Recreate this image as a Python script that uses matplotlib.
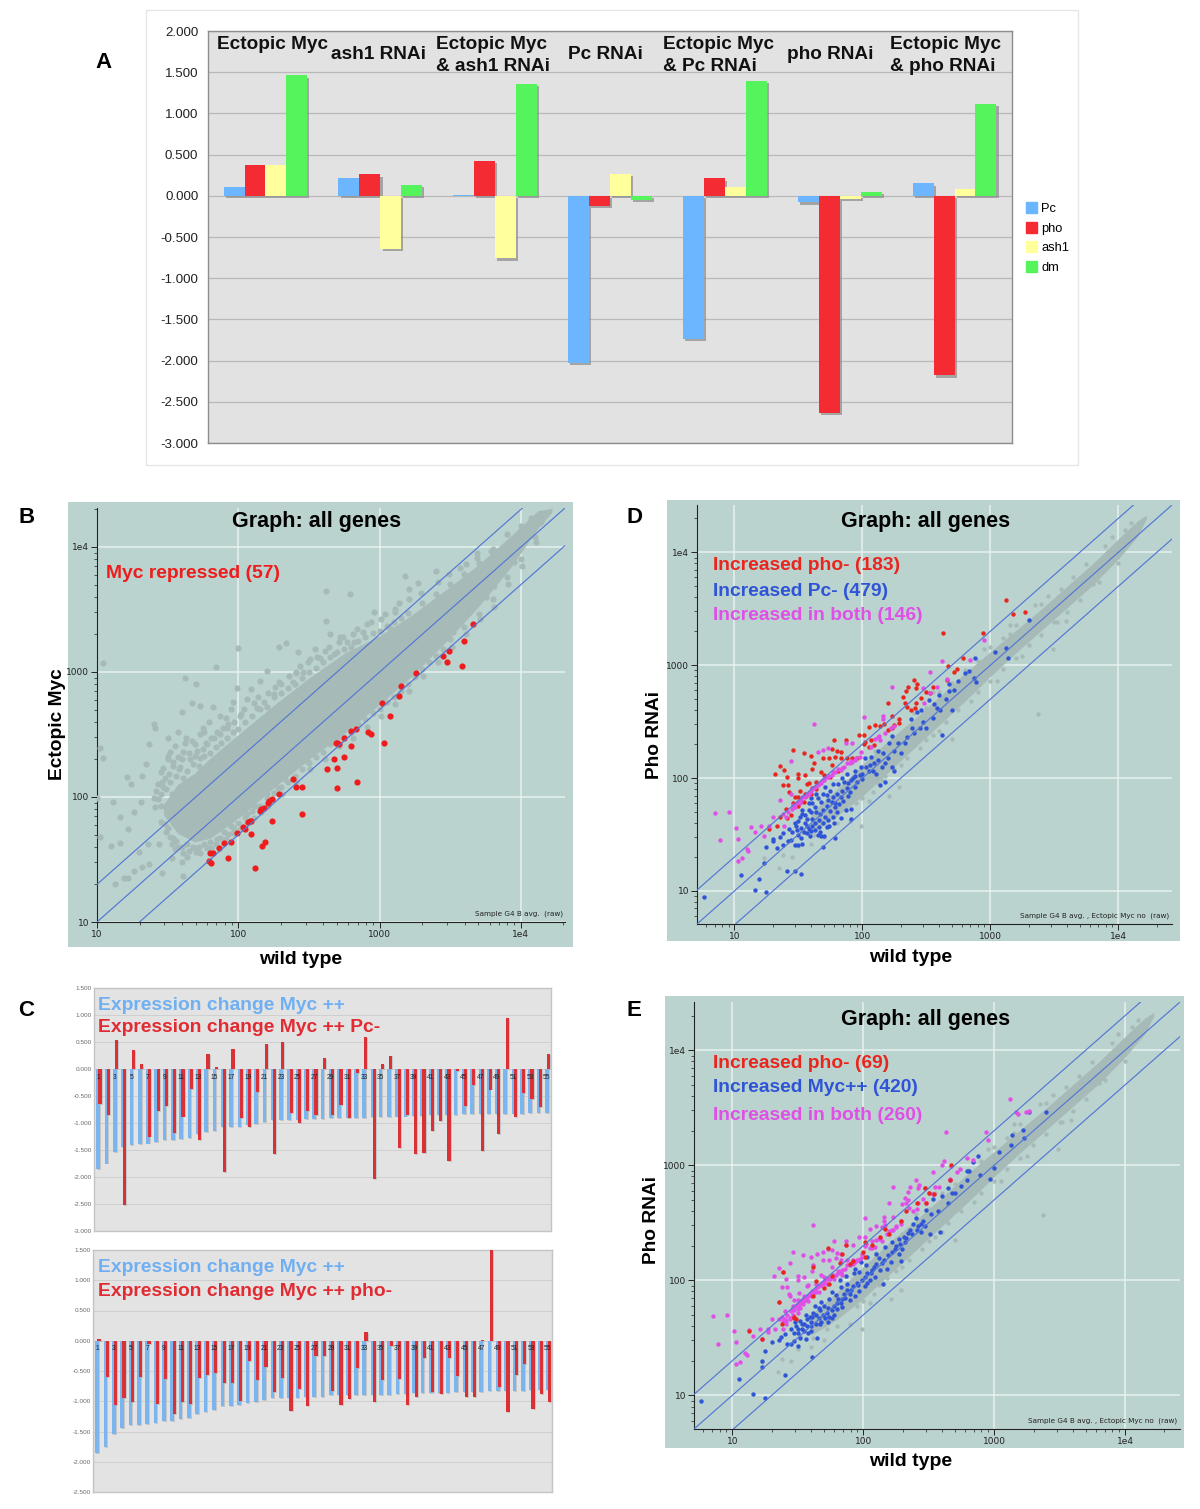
# Fig: Myc / PcG expression changes, panels A-E
import matplotlib
matplotlib.use('Agg')
import matplotlib.pyplot as plt
import matplotlib.patheffects as pe
from matplotlib.patches import Rectangle, Patch
from matplotlib.ticker import FixedLocator, NullFormatter
import numpy as np

plt.rcParams['font.family'] = ['Liberation Sans', 'DejaVu Sans']

W, H = 1200, 1509

# ---- panel A
groups = ['Ectopic Myc', 'ash1 RNAi', 'Ectopic Myc\n& ash1 RNAi', 'Pc RNAi',
          'Ectopic Myc\n& Pc RNAi', 'pho RNAi', 'Ectopic Myc\n& pho RNAi']
a_pc = [0.11, 0.22, 0.005, -2.03, -1.74, -0.08, 0.15]
a_pho = [0.37, 0.26, 0.42, -0.12, 0.21, -2.63, -2.18]
a_ash1 = [0.37, -0.64, -0.76, 0.27, 0.11, -0.04, 0.08]
a_dm = [1.46, 0.13, 1.36, -0.05, 1.39, 0.05, 1.12]

# ---- panel C, one bar per gene
c_myc = [-1.85, -1.75, -1.54, -1.44, -1.40, -1.39, -1.38, -1.36, -1.32, -1.32, -1.30,
         -1.27, -1.21, -1.17, -1.14, -1.08, -1.08, -1.07, -1.03, -1.01, -0.98, -0.95,
         -0.94, -0.94, -0.94, -0.93, -0.93, -0.93, -0.90, -0.90, -0.90, -0.90, -0.90,
         -0.89, -0.89, -0.89, -0.88, -0.88, -0.87, -0.87, -0.86, -0.86, -0.86, -0.85,
         -0.84, -0.84, -0.84, -0.83, -0.83, -0.83, -0.83, -0.83, -0.82, -0.82, -0.81]
c_myc_pc = [-0.65, -0.85, 0.53, -2.52, 0.35, 0.10, -1.25, -0.78, -0.68, -1.18, -0.88,
            -0.37, -1.32, 0.27, 0.03, -1.90, 0.37, -0.90, -1.08, -0.42, 0.47, -1.58,
            0.50, -0.82, -1.00, -0.77, -0.85, 0.21, -0.86, -0.67, -0.91, -0.07, 0.59,
            -2.03, 0.10, 0.25, -1.47, -0.85, -1.58, -1.56, -1.15, -0.96, -1.71, -0.04,
            -0.69, -0.30, -1.51, -0.38, -1.20, 0.94, -0.89, -0.44, -0.55, -0.70, 0.27]
c_myc_pho = [0.03, -0.60, -1.06, -0.95, -1.02, -0.60, -0.06, -1.05, -0.64, -1.21, -1.02,
             -1.05, -0.62, -0.57, -0.53, -0.70, -0.70, -0.99, -0.33, -0.65, -0.43, -0.84,
             -0.62, -1.16, -0.80, -1.08, -0.26, -0.25, -0.83, -1.06, -0.96, -0.45, 0.15,
             -1.02, -0.65, -0.08, -0.63, -1.06, -0.93, -0.29, -0.84, -0.88, -0.29, -0.59,
             -0.93, -0.93, 0.01, 1.50, -0.76, -1.18, -0.56, -0.39, -1.13, -0.88, -1.01]

# ---- scatter panels, (log10 x, log10 y)
b_band_x = [1.47, 1.57, 1.69, 1.80, 2.00, 2.28, 2.51, 2.75, 3.00, 3.22, 3.46, 3.69, 3.93, 4.12, 4.22]
b_band_lo = [1.86, 1.71, 1.64, 1.67, 1.83, 2.10, 2.31, 2.51, 2.74, 2.96, 3.23, 3.51, 3.84, 4.15, 4.28]
b_band_hi = [1.94, 2.10, 2.19, 2.31, 2.50, 2.76, 2.96, 3.15, 3.29, 3.45, 3.65, 3.85, 4.09, 4.29, 4.31]
b_gray = [(1.04, 3.07), (1.02, 2.39), (1.04, 2.31), (1.00, 1.99), (1.02, 1.68), (1.11, 1.96),
          (1.16, 1.84), (1.10, 1.61), (1.16, 1.63), (1.13, 1.30), (1.19, 1.35), (1.22, 1.35),
          (1.26, 1.41), (1.32, 1.44), (1.37, 1.46), (1.46, 1.39), (1.61, 1.37), (1.60, 1.48),
          (1.53, 1.51), (1.30, 1.56), (1.36, 1.62), (1.44, 1.62), (1.22, 1.74), (1.31, 1.96),
          (1.26, 1.88), (1.35, 2.26), (1.32, 2.17), (1.21, 2.16), (1.24, 2.10), (1.37, 2.42),
          (1.40, 2.58), (1.41, 2.55), (1.50, 2.47), (1.57, 2.52), (1.67, 2.75), (1.73, 2.73),
          (1.62, 2.95), (1.70, 2.90), (1.84, 3.04), (1.60, 2.68), (1.76, 2.52), (1.82, 2.72),
          (1.91, 2.63), (1.96, 2.76), (1.99, 2.87), (2.00, 3.19), (2.09, 2.86), (2.15, 2.93),
          (2.20, 3.01), (2.25, 2.82), (2.29, 3.20), (2.34, 3.23), (2.42, 3.16), (2.54, 3.18),
          (2.41, 2.99), (2.51, 3.10), (2.62, 3.65), (2.62, 3.41), (2.79, 3.62), (2.72, 3.28),
          (2.65, 3.30), (2.82, 3.24), (2.88, 3.32), (2.96, 3.48), (3.18, 3.77), (3.27, 3.71),
          (3.21, 3.66), (3.40, 3.81), (3.11, 3.48), (3.07, 3.35), (3.95, 3.88), (3.81, 3.69),
          (3.39, 3.19), (3.24, 3.03), (3.10, 2.92), (2.98, 2.76), (2.82, 2.58), (2.68, 2.55),
          (2.49, 2.28), (2.39, 2.26), (2.28, 2.07), (2.20, 2.02), (2.06, 1.86), (1.97, 1.75),
          (1.87, 1.67), (1.78, 1.59), (1.69, 1.59), (1.64, 1.52), (1.45, 2.20), (1.43, 2.10),
          (1.45, 2.02), (1.48, 2.15), (1.54, 2.28), (1.52, 2.36), (1.61, 2.36), (1.69, 2.42),
          (1.78, 2.42), (1.73, 2.31), (1.83, 2.47), (1.92, 2.55), (1.87, 2.50), (2.02, 2.66),
          (2.13, 2.71), (2.18, 2.76), (2.30, 2.90), (2.39, 2.92), (2.46, 3.00), (2.58, 3.11),
          (2.68, 3.14), (2.77, 3.24), (1.45, 1.80), (1.50, 1.75), (1.54, 1.67), (1.41, 1.92),
          (4.07, 4.23), (4.14, 4.20), (3.95, 4.07), (3.79, 3.97), (3.69, 3.91), (3.57, 3.83),
          (1.50, 2.30), (1.58, 2.22), (1.66, 2.30), (1.75, 2.38), (1.40, 1.99), (1.47, 2.08),
          (1.55, 1.58), (1.70, 1.56), (1.84, 1.62), (1.93, 1.70), (2.12, 1.93), (2.33, 2.14),
          (2.58, 2.40), (2.87, 2.68), (3.05, 2.85), (3.30, 3.10), (3.52, 3.32), (3.75, 3.60)]
b_upper_fringe = [(1.42, 2.05), (1.43, 1.98), (1.46, 2.12), (1.47, 2.23), (1.45, 1.93), (1.51, 2.18),
                  (1.49, 2.06), (1.50, 2.33), (1.53, 2.02), (1.54, 2.25), (1.52, 2.12), (1.56, 2.17),
                  (1.57, 2.32), (1.55, 2.41), (1.61, 2.15), (1.59, 2.24), (1.60, 2.30), (1.62, 2.43),
                  (1.64, 2.21), (1.65, 2.35), (1.63, 2.47), (1.68, 2.26), (1.69, 2.33), (1.67, 2.45),
                  (1.72, 2.25), (1.71, 2.37), (1.73, 2.50), (1.76, 2.33), (1.77, 2.43), (1.75, 2.55),
                  (1.80, 2.35), (1.81, 2.47), (1.79, 2.60), (1.84, 2.40), (1.85, 2.52), (1.88, 2.43),
                  (1.89, 2.55), (1.87, 2.65), (1.92, 2.47), (1.93, 2.58), (1.96, 2.52), (1.97, 2.60),
                  (1.95, 2.70), (2.00, 2.54), (2.01, 2.65), (2.05, 2.60), (2.04, 2.70), (2.06, 2.78),
                  (2.10, 2.65), (2.11, 2.75), (2.15, 2.70), (2.14, 2.80), (2.20, 2.72), (2.21, 2.83),
                  (2.25, 2.80), (2.26, 2.88), (2.30, 2.83), (2.29, 2.92), (2.35, 2.87), (2.36, 2.97),
                  (2.40, 2.90), (2.41, 3.00), (2.45, 2.95), (2.44, 3.05), (2.50, 3.00), (2.49, 3.08),
                  (2.55, 3.03), (2.56, 3.12), (2.60, 3.08), (2.61, 3.17), (2.65, 3.12), (2.64, 3.20),
                  (2.70, 3.16), (2.71, 3.24), (2.75, 3.18), (2.74, 3.28), (2.80, 3.20), (2.81, 3.30),
                  (2.85, 3.25), (2.84, 3.34), (2.90, 3.28), (2.91, 3.38), (2.95, 3.31), (2.94, 3.40),
                  (3.00, 3.33), (3.01, 3.42), (3.05, 3.37), (3.04, 3.46), (3.10, 3.40), (3.11, 3.50),
                  (3.15, 3.43), (3.14, 3.55), (3.20, 3.47), (3.21, 3.58), (3.30, 3.55), (3.29, 3.63),
                  (3.40, 3.62), (3.41, 3.72), (3.50, 3.70), (3.49, 3.78), (3.60, 3.78), (3.61, 3.86),
                  (3.70, 3.87), (3.69, 3.95), (3.80, 3.98), (3.90, 4.10), (4.00, 4.17)]
b_lower_fringe = [(1.48, 1.78), (1.49, 1.72), (1.52, 1.68), (1.53, 1.62), (1.56, 1.65), (1.57, 1.60),
                  (1.60, 1.60), (1.61, 1.55), (1.64, 1.62), (1.65, 1.57), (1.68, 1.60), (1.72, 1.60),
                  (1.73, 1.55), (1.76, 1.62), (1.80, 1.64), (1.81, 1.59), (1.85, 1.66), (1.90, 1.72),
                  (1.91, 1.66), (1.95, 1.77), (1.96, 1.71), (2.00, 1.79), (2.01, 1.74), (2.05, 1.84),
                  (2.06, 1.79), (2.10, 1.89), (2.11, 1.83), (2.15, 1.93), (2.16, 1.88), (2.20, 1.99),
                  (2.21, 1.93), (2.25, 2.03), (2.30, 2.08), (2.31, 2.02), (2.35, 2.12), (2.40, 2.17),
                  (2.41, 2.12), (2.45, 2.22), (2.50, 2.27), (2.51, 2.22), (2.55, 2.32), (2.60, 2.36),
                  (2.61, 2.30), (2.65, 2.42), (2.70, 2.47), (2.71, 2.41), (2.75, 2.48), (2.80, 2.52),
                  (2.81, 2.47), (2.85, 2.58), (2.90, 2.62), (2.91, 2.56), (2.95, 2.67), (3.00, 2.70),
                  (3.01, 2.65), (3.05, 2.76), (3.10, 2.80), (3.11, 2.74), (3.15, 2.85), (3.20, 2.90),
                  (3.21, 2.85), (3.25, 2.96), (3.30, 3.02), (3.31, 2.97), (3.35, 3.08), (3.40, 3.13),
                  (3.41, 3.08), (3.45, 3.18), (3.50, 3.26), (3.51, 3.20), (3.60, 3.36), (3.61, 3.30),
                  (3.70, 3.46), (3.71, 3.42), (3.80, 3.58), (3.81, 3.52), (3.90, 3.76), (3.91, 3.70),
                  (4.00, 3.90), (4.01, 3.85), (4.10, 4.08), (4.11, 4.04)]
b_red = [(3.66, 3.38), (3.60, 3.25), (3.49, 3.17), (3.45, 3.13), (3.48, 3.08), (3.58, 3.05),
         (3.26, 2.99), (3.15, 2.89), (3.14, 2.81), (3.02, 2.75), (3.07, 2.65), (3.03, 2.43),
         (2.92, 2.52), (2.94, 2.50), (2.83, 2.54), (2.80, 2.53), (2.75, 2.47), (2.80, 2.41),
         (2.69, 2.43), (2.71, 2.42), (2.68, 2.30), (2.75, 2.32), (2.63, 2.22), (2.70, 2.23),
         (2.70, 2.07), (2.84, 2.12), (2.39, 2.14), (2.41, 2.08), (2.45, 2.08), (2.45, 1.86),
         (2.29, 2.02), (2.24, 1.98), (2.22, 1.97), (2.21, 1.95), (2.24, 1.81), (2.18, 1.91),
         (2.16, 1.90), (2.15, 1.89), (2.09, 1.81), (2.07, 1.80), (2.09, 1.70), (2.03, 1.76),
         (2.05, 1.74), (1.99, 1.71), (1.95, 1.64), (1.90, 1.63), (1.86, 1.59), (2.19, 1.64),
         (2.17, 1.61), (1.93, 1.51), (2.12, 1.43), (1.80, 1.55), (1.82, 1.55), (1.79, 1.49),
         (1.81, 1.47), (2.70, 2.43), (2.08, 1.81)]

# same genes on D and E, only the colouring differs
de_band_x = [1.60, 1.80, 2.00, 2.20, 2.40, 2.60, 2.80, 3.00, 3.20, 3.40, 3.60, 3.80, 4.00, 4.15, 4.22]
de_band_lo = [1.52, 1.66, 1.84, 2.05, 2.26, 2.47, 2.68, 2.90, 3.11, 3.31, 3.51, 3.71, 3.94, 4.14, 4.30]
de_band_hi = [1.70, 1.90, 2.12, 2.33, 2.52, 2.72, 2.93, 3.12, 3.31, 3.50, 3.70, 3.90, 4.12, 4.28, 4.33]
de_gray = [(3.37, 2.57), (1.99, 1.58), (2.21, 1.84), (2.29, 1.92), (2.70, 2.35), (3.49, 3.14),
           (3.59, 3.39), (3.45, 3.61), (3.15, 3.28), (1.23, 1.29), (1.90, 1.62), (2.05, 1.80),
           (2.15, 1.98), (2.30, 2.12), (2.50, 2.34), (2.60, 2.42), (2.85, 2.68), (3.05, 2.86),
           (3.25, 3.08), (3.52, 3.38), (3.80, 3.72), (2.40, 2.58), (2.70, 2.84), (2.95, 3.14),
           (3.10, 3.24), (3.35, 3.53), (3.65, 3.78), (3.95, 4.14), (4.10, 4.26), (1.70, 1.48),
           (1.80, 1.60), (1.60, 1.42), (1.50, 1.40), (2.10, 2.24), (2.55, 2.76), (3.15, 3.36),
           (1.95, 1.78), (2.00, 1.82), (2.08, 1.88), (2.12, 1.96), (2.18, 2.02), (2.25, 2.08),
           (2.35, 2.18), (2.45, 2.27), (2.55, 2.38), (2.65, 2.50), (2.75, 2.60), (2.90, 2.76),
           (3.00, 2.86), (3.10, 2.97), (3.20, 3.06), (3.30, 3.18), (3.40, 3.27), (3.50, 3.38),
           (3.60, 3.47), (3.70, 3.58), (3.85, 3.74), (4.00, 3.91), (2.30, 2.40), (2.50, 2.62),
           (2.60, 2.76), (2.80, 2.96), (2.90, 3.04), (3.00, 3.16), (3.20, 3.36), (3.40, 3.54),
           (3.55, 3.68), (3.75, 3.90), (3.90, 4.06), (4.05, 4.20), (1.45, 1.30), (1.38, 1.32),
           (1.35, 1.20), (1.52, 1.52), (1.62, 1.50), (1.72, 1.58)]
d_red = [(3.12, 3.58), (3.18, 3.45), (3.27, 3.47), (2.63, 3.29), (2.94, 3.29), (2.79, 3.06),
         (2.67, 2.99), (2.74, 2.97), (2.72, 2.94), (2.66, 2.87), (2.40, 2.87), (2.36, 2.81),
         (2.43, 2.83), (2.42, 2.80), (2.34, 2.77), (2.55, 2.81), (2.50, 2.76), (2.53, 2.75),
         (2.46, 2.71), (2.32, 2.72), (2.33, 2.67), (2.42, 2.67), (2.20, 2.67), (2.35, 2.63),
         (2.38, 2.60), (2.41, 2.62), (2.23, 2.55), (2.29, 2.52), (2.29, 2.49), (2.25, 2.47),
         (2.05, 2.45), (2.10, 2.47), (2.14, 2.46), (2.17, 2.48), (2.20, 2.43), (2.23, 2.44),
         (1.97, 2.38), (2.01, 2.38), (1.78, 2.34), (1.87, 2.34), (2.02, 2.32), (2.07, 2.34),
         (2.09, 2.29), (2.05, 2.28), (2.01, 2.30), (1.46, 2.25), (1.54, 2.22), (1.60, 2.20),
         (1.76, 2.26), (1.80, 2.24), (1.83, 2.23), (1.69, 2.18), (1.74, 2.18), (1.79, 2.19),
         (1.83, 2.18), (1.88, 2.18), (1.92, 2.18), (1.96, 2.18), (1.62, 2.13), (1.76, 2.12),
         (1.36, 2.11), (1.32, 2.04), (1.39, 2.07), (1.41, 2.01), (1.50, 2.04), (1.55, 2.03),
         (1.61, 2.08), (1.68, 2.05), (1.75, 2.01), (1.81, 2.06), (1.38, 1.94), (1.42, 1.94),
         (1.50, 2.00), (1.57, 1.95), (1.64, 1.97), (1.43, 1.88), (1.51, 1.89), (1.61, 1.91),
         (1.50, 1.83), (1.55, 1.86), (1.40, 1.73), (1.46, 1.78), (1.50, 1.75), (1.54, 1.79),
         (1.36, 1.66), (1.44, 1.67), (1.41, 1.65), (1.27, 1.55), (1.33, 1.58), (1.58, 1.96),
         (1.64, 1.90), (1.47, 1.83), (1.52, 1.80), (1.56, 1.84), (1.60, 1.86), (1.70, 2.03)]
d_pink = [(2.95, 3.22), (2.62, 3.04), (2.84, 3.05), (2.53, 2.94), (2.66, 2.88), (2.23, 2.81),
          (2.47, 2.80), (2.58, 2.81), (2.53, 2.75), (2.48, 2.67), (2.01, 2.54), (2.16, 2.55),
          (2.16, 2.52), (1.62, 2.48), (2.25, 2.46), (2.10, 2.35), (2.13, 2.37), (1.92, 2.31),
          (1.87, 2.31), (1.99, 2.23), (1.73, 2.27), (1.69, 2.25), (1.65, 2.23), (1.44, 2.15),
          (1.91, 2.15), (1.42, 1.70), (1.45, 1.73), (1.49, 1.78), (1.52, 1.81), (1.55, 1.83),
          (1.59, 1.88), (1.62, 1.91), (1.65, 1.94), (1.68, 1.96), (1.70, 1.98), (1.73, 2.01),
          (1.76, 2.03), (1.79, 2.05), (1.83, 2.07), (1.86, 2.10), (1.90, 2.13), (1.94, 2.16),
          (1.98, 2.19), (1.47, 1.74), (1.51, 1.78), (1.56, 1.85), (1.60, 1.89), (1.63, 1.92),
          (1.69, 1.98), (1.74, 2.02), (1.38, 1.68), (1.40, 1.66), (0.85, 1.69), (0.96, 1.70),
          (1.01, 1.56), (0.89, 1.45), (1.03, 1.46), (1.13, 1.57), (1.16, 1.52), (1.21, 1.58),
          (1.23, 1.49), (1.27, 1.58), (1.30, 1.66), (1.10, 1.37), (1.11, 1.35), (1.03, 1.27),
          (1.06, 1.29), (1.36, 1.81), (1.44, 1.86), (1.39, 1.58), (2.12, 2.36), (2.14, 2.34),
          (2.18, 2.40), (2.22, 2.44), (2.07, 2.28), (1.95, 2.18), (1.88, 2.13), (1.81, 2.08),
          (1.53, 1.83), (1.58, 1.86), (1.61, 1.90), (1.66, 1.95), (1.71, 2.00), (1.77, 2.05),
          (1.84, 2.09), (1.92, 2.14), (1.50, 1.79), (1.46, 1.76)]
d_blue = [(0.76, 0.95), (1.16, 1.01), (1.25, 0.99), (1.19, 1.11), (1.05, 1.14), (1.23, 1.25),
          (1.41, 1.18), (1.47, 1.18), (1.52, 1.15), (1.69, 1.39), (1.79, 1.47), (1.25, 1.39),
          (1.30, 1.44), (1.30, 1.46), (1.36, 1.48), (1.38, 1.51), (1.33, 1.38), (1.38, 1.41),
          (1.42, 1.44), (1.44, 1.45), (1.47, 1.41), (1.50, 1.41), (1.53, 1.42), (1.43, 1.55),
          (1.49, 1.54), (1.50, 1.50), (1.57, 1.51), (1.59, 1.49), (1.65, 1.50), (1.68, 1.49),
          (1.70, 1.49), (1.55, 1.60), (1.61, 1.58), (1.66, 1.57), (1.72, 1.57), (1.51, 1.66),
          (1.55, 1.67), (1.61, 1.64), (1.66, 1.63), (1.73, 1.63), (1.77, 1.66), (1.58, 1.72),
          (1.64, 1.70), (1.69, 1.72), (1.75, 1.71), (1.80, 1.70), (1.91, 1.64), (1.83, 1.65),
          (1.87, 1.72), (1.91, 1.73), (1.61, 1.78), (1.68, 1.79), (1.73, 1.81), (1.79, 1.78),
          (1.83, 1.83), (1.69, 1.86), (1.75, 1.89), (1.80, 1.86), (1.84, 1.89), (1.88, 1.91),
          (1.94, 1.92), (1.81, 1.95), (1.86, 1.97), (1.91, 1.98), (1.88, 2.04), (1.94, 2.06),
          (1.99, 2.10), (2.05, 2.06), (2.02, 2.18), (2.07, 2.19), (2.09, 2.13), (2.06, 2.12),
          (2.20, 2.18), (2.18, 2.13), (2.23, 2.10), (2.14, 1.94), (2.18, 1.97), (2.25, 2.06),
          (2.21, 2.31), (2.28, 2.31), (2.23, 2.37), (2.39, 2.44), (2.40, 2.40), (2.47, 2.50),
          (2.50, 2.44), (2.62, 2.38), (2.43, 2.59), (2.46, 2.60), (2.61, 2.60), (2.70, 2.60),
          (2.52, 2.69), (2.60, 2.74), (2.68, 2.77), (2.68, 2.83), (2.75, 2.86), (2.80, 2.93),
          (2.83, 2.95), (2.87, 2.89), (2.89, 2.85), (2.88, 3.06), (3.04, 3.12), (3.14, 3.06),
          (3.12, 3.15), (3.30, 3.40), (1.52, 1.47), (1.58, 1.55), (1.63, 1.54), (1.47, 1.60),
          (1.53, 1.72), (1.58, 1.78), (1.65, 1.82), (1.71, 1.92), (1.77, 1.95), (1.93, 2.00),
          (1.98, 2.03), (2.00, 1.99), (2.12, 2.24), (2.30, 2.22), (2.35, 2.36), (2.56, 2.66),
          (1.45, 1.52), (1.48, 1.58), (1.52, 1.56), (1.54, 1.52), (1.57, 1.58), (1.60, 1.53),
          (1.63, 1.60), (1.67, 1.52), (1.69, 1.60), (1.71, 1.66), (1.74, 1.58), (1.78, 1.60),
          (1.50, 1.62), (1.53, 1.68), (1.57, 1.64), (1.60, 1.70), (1.63, 1.74), (1.67, 1.68),
          (1.72, 1.75), (1.76, 1.79), (1.79, 1.74), (1.82, 1.77), (1.85, 1.80), (1.89, 1.84),
          (1.60, 1.82), (1.64, 1.86), (1.72, 1.85), (1.77, 1.83), (1.90, 1.88), (1.96, 1.97),
          (1.84, 2.00), (1.89, 1.96), (1.94, 2.02), (2.00, 2.04), (2.03, 2.10), (2.08, 2.06),
          (2.12, 2.16), (2.15, 2.10), (2.11, 2.04), (2.16, 2.22), (2.25, 2.24), (2.33, 2.31),
          (2.38, 2.52), (2.45, 2.44), (2.55, 2.53), (2.58, 2.62), (2.65, 2.70), (2.72, 2.78)]
e_red = [(1.13, 1.56), (1.23, 1.49), (1.38, 1.62), (1.36, 1.81), (1.39, 2.07), (1.47, 1.67),
         (1.62, 2.12), (1.73, 2.28), (1.87, 2.31), (1.84, 2.23), (1.82, 2.15), (1.92, 2.17),
         (1.90, 2.14), (2.00, 2.25), (2.01, 2.33), (2.01, 2.20), (2.07, 2.31), (2.13, 2.38),
         (2.17, 2.45), (2.20, 2.40), (2.29, 2.52), (2.33, 2.60), (2.41, 2.67), (2.48, 2.67),
         (2.47, 2.80), (2.50, 2.76), (2.54, 2.75), (2.66, 2.87), (2.67, 3.00), (1.62, 1.86),
         (1.74, 1.97), (1.76, 2.04), (1.64, 1.99), (1.70, 1.93), (1.47, 1.68), (1.49, 1.66)]
e_pink_extra = [(2.60, 3.00), (1.55, 1.82), (1.62, 1.88), (1.50, 1.72), (1.46, 1.70), (1.44, 1.66),
                (1.52, 1.76), (1.58, 1.82), (1.66, 1.90), (1.72, 1.97), (1.78, 2.01), (1.84, 2.05),
                (1.41, 1.62), (1.39, 1.65), (3.17, 3.46), (3.24, 3.46), (2.30, 2.66), (2.34, 2.70)]
e_blue = [(0.76, 0.95), (1.16, 1.01), (1.25, 0.98), (1.05, 1.14), (1.23, 1.25), (1.23, 1.30),
          (1.25, 1.39), (1.30, 1.46), (1.36, 1.48), (1.37, 1.51), (1.40, 1.53), (1.40, 1.18),
          (1.61, 1.33), (1.65, 1.50), (1.42, 1.45), (1.45, 1.45), (1.50, 1.43), (1.50, 1.54),
          (1.50, 1.58), (1.58, 1.54), (1.60, 1.56), (1.48, 1.64), (1.52, 1.65), (1.55, 1.62),
          (1.60, 1.64), (1.66, 1.67), (1.71, 1.67), (1.76, 1.67), (1.56, 1.70), (1.62, 1.72),
          (1.67, 1.74), (1.72, 1.72), (1.78, 1.78), (1.63, 1.78), (1.68, 1.81), (1.74, 1.84),
          (1.79, 1.87), (1.83, 1.80), (1.84, 1.84), (1.90, 1.88), (1.94, 1.86), (1.76, 1.90),
          (1.83, 1.94), (1.88, 1.97), (1.82, 2.00), (1.87, 2.04), (1.93, 2.06), (1.97, 2.07),
          (2.01, 2.03), (2.05, 2.00), (2.15, 1.97), (2.01, 1.95), (1.98, 2.16), (2.02, 2.13),
          (2.06, 2.06), (1.94, 2.10), (2.03, 2.20), (2.10, 2.23), (2.14, 2.15), (2.18, 2.10),
          (2.17, 2.29), (2.22, 2.25), (2.27, 2.23), (2.29, 2.17), (2.22, 2.33), (2.27, 2.36),
          (2.32, 2.33), (2.34, 2.41), (2.38, 2.49), (2.40, 2.54), (2.44, 2.49), (2.46, 2.52),
          (2.51, 2.40), (2.59, 2.42), (2.52, 2.58), (2.48, 2.61), (2.57, 2.60), (2.53, 2.71),
          (2.60, 2.73), (2.65, 2.67), (2.68, 2.76), (2.70, 2.76), (2.65, 2.80), (2.75, 2.82),
          (2.79, 2.87), (2.79, 2.95), (2.81, 2.95), (2.89, 2.92), (2.97, 2.88), (3.00, 2.98),
          (2.88, 3.08), (2.84, 3.03), (3.04, 3.12), (3.13, 3.18), (3.14, 3.26), (3.22, 3.31),
          (3.23, 3.24), (3.27, 3.46), (3.40, 3.46), (1.53, 1.58), (1.57, 1.60), (1.64, 1.62),
          (1.68, 1.64), (1.74, 1.68), (1.80, 1.75), (1.86, 1.85), (1.91, 1.92), (1.96, 1.96),
          (1.70, 1.78), (1.66, 1.76), (1.59, 1.68), (1.47, 1.54), (1.45, 1.58), (1.55, 1.56),
          (2.08, 2.12), (2.12, 2.19), (2.25, 2.30), (2.31, 2.38), (2.36, 2.44), (2.42, 2.47),
          (1.49, 1.60), (1.53, 1.62), (1.57, 1.66), (1.61, 1.68), (1.64, 1.70), (1.69, 1.70),
          (1.73, 1.76), (1.76, 1.74), (1.80, 1.80), (1.81, 1.84), (1.85, 1.88), (1.88, 1.92),
          (1.92, 1.95), (1.95, 1.98), (1.99, 2.00), (2.03, 2.06), (2.07, 2.09), (2.10, 2.14),
          (2.13, 2.09), (2.16, 2.18), (2.19, 2.22), (2.21, 2.16), (2.24, 2.27), (2.28, 2.32),
          (2.30, 2.27), (2.33, 2.37), (2.37, 2.40), (2.41, 2.44), (2.44, 2.42), (2.47, 2.47),
          (1.47, 1.47), (1.52, 1.50), (1.56, 1.49), (1.60, 1.60), (1.67, 1.62), (1.73, 1.64),
          (1.78, 1.70), (1.84, 1.77), (1.90, 1.83), (1.97, 1.91), (2.03, 1.98), (2.09, 2.03)]

red = '#e8261e'
blue = '#2f55d6'
pink = '#e04fe6'
gray = '#a6bbb8'
teal = '#bbd3cf'
line_blue = '#5476d4'

fig = plt.figure(figsize=(W / 100, H / 100), dpi=100)


def px_axes(left, top, right, bottom):
    return fig.add_axes([left / W, 1 - bottom / H, (right - left) / W, (bottom - top) / H])


def px_text(x, y, s, **kw):
    kw.setdefault('ha', 'left')
    kw.setdefault('va', 'center')
    kw.setdefault('fontweight', 'bold')
    fig.text(x / W, 1 - y / H, s, **kw)


def px_rect(left, top, right, bottom, **kw):
    fig.add_artist(Rectangle((left / W, 1 - bottom / H), (right - left) / W, (bottom - top) / H,
                             transform=fig.transFigure, **kw))


def scatter_panel(box, axbox, lim, band, layers, ylabel_pos, ylabel, xlabel_pos, note,
                  size, title_x, title_y):
    px_rect(*box, facecolor=teal, edgecolor='none', zorder=-5)
    ax = px_axes(*axbox)
    ax.patch.set_alpha(0)
    ax.set_xscale('log')
    ax.set_yscale('log')
    ax.set_xlim(lim)
    ax.set_ylim(lim)
    for t in [10, 100, 1000, 10000]:
        ax.axvline(t, color='#e6f2ef', lw=1.1, zorder=1)
        ax.axhline(t, color='#e6f2ef', lw=1.1, zorder=1)
    bx, blo, bhi = band
    ax.fill_between(10 ** np.array(bx), 10 ** np.array(blo), 10 ** np.array(bhi),
                    color=gray, lw=0, zorder=2)
    for k, (pts, col) in enumerate(layers):
        xy = 10 ** np.array(pts)
        ax.scatter(xy[:, 0], xy[:, 1], s=size, c=col, linewidths=0, zorder=3 + k * 0.1)
    grid = np.array([lim[0], lim[1] * 4])
    for f in [2, 1, 0.5]:
        ax.plot(grid, grid * f, color=line_blue, lw=0.85, zorder=5)
    for s in ['top', 'right']:
        ax.spines[s].set_visible(False)
    for s in ['left', 'bottom']:
        ax.spines[s].set_linewidth(0.8)
        ax.spines[s].set_color('#222222')
    majors = [10, 100, 1000, 10000]
    minors = [m * 10 ** e for e in range(0, 5) for m in range(2, 10)]
    for axis in (ax.xaxis, ax.yaxis):
        axis.set_major_locator(FixedLocator(majors))
        axis.set_major_formatter(plt.FixedFormatter(['10', '100', '1000', '1e4']))
        axis.set_minor_locator(FixedLocator(minors))
        axis.set_minor_formatter(NullFormatter())
    ax.tick_params(which='major', length=4, width=0.7, labelsize=6.5, pad=1.5, colors='#222222',
                   labelfontfamily='DejaVu Sans')
    ax.tick_params(which='minor', length=2, width=0.5, colors='#222222')
    ax.text(0.995, 0.012, note, transform=ax.transAxes, ha='right', va='bottom',
            fontsize=5.2, color='#222222', family='DejaVu Sans')
    px_text(title_x, title_y, 'Graph: all genes', ha='center', fontsize=15.5, color='black')
    px_text(ylabel_pos[0], ylabel_pos[1], ylabel, ha='center', rotation=90, fontsize=13.8, color='black')
    px_text(xlabel_pos[0], xlabel_pos[1], 'wild type', ha='center', fontsize=14, color='black')
    return ax


def bars_panel(box, ylim, values, color2, lab_y, legend_y, legend2):
    ax = px_axes(*box)
    ax.set_facecolor('#e3e3e3')
    x = np.arange(1, 56)
    shadow = [pe.withSimplePatchShadow(offset=(0.7, -0.7), shadow_rgbFace='#aaaaaa', alpha=0.5), pe.Normal()]
    ax.bar(x, c_myc, width=0.44, color='#7ab5ee', zorder=2, path_effects=shadow)
    ax.bar(x + 0.22, values, width=0.38, color=color2, zorder=3, path_effects=shadow)
    ax.set_xlim(0.5, 55.5)
    ax.set_ylim(ylim)
    ticks = np.arange(ylim[0], ylim[1] + 0.01, 0.5)
    ax.set_yticks(ticks)
    ax.set_yticklabels(['%.3f' % t for t in ticks])
    ax.set_xticks([])
    ax.tick_params(axis='y', length=0, labelsize=4.6, labelcolor='#6a6a6a', pad=1.5)
    ax.grid(axis='y', color='#cfcfcf', lw=0.7, zorder=1)
    ax.set_axisbelow(True)
    for s in ax.spines.values():
        s.set_color('#c4c4c4')
        s.set_linewidth(1)
    for i in range(1, 56, 2):
        ax.text(i, lab_y, str(i), ha='center', va='center', fontsize=4.8, color='#222222', zorder=4)
    px_text(98, legend_y[0], 'Expression change Myc ++', fontsize=13.9, color='#70b0f2')
    px_text(98, legend_y[1], legend2, fontsize=13.9, color='#e12b32')


# A
px_rect(146, 10, 1078, 465, facecolor='white', edgecolor='#e6e6e6', lw=1, zorder=-5)
ax = px_axes(208, 31, 1012, 443)
ax.set_facecolor('#e2e2e2')
pos = np.arange(len(groups))
w = 0.182
shadow = [pe.withSimplePatchShadow(offset=(1.6, -1.6), shadow_rgbFace='#8f8f8f', alpha=0.75), pe.Normal()]
series = [('Pc', a_pc, '#6bb6ff'), ('pho', a_pho, '#f42b33'), ('ash1', a_ash1, '#ffff9c'), ('dm', a_dm, '#55f45c')]
for k, (name, vals, col) in enumerate(series):
    ax.bar(pos + (k - 1.5) * w, vals, width=w, color=col, path_effects=shadow, zorder=3)
ax.set_xlim(-0.5, 6.5)
ax.set_ylim(-3, 2)
ax.set_yticks(np.arange(-3, 2.01, 0.5))
ax.set_yticklabels(['%.3f' % t for t in np.arange(-3, 2.01, 0.5)])
ax.set_xticks([])
ax.grid(axis='y', color='#b9b9b9', lw=0.9, zorder=1)
ax.tick_params(axis='y', length=0, labelsize=9.6, labelcolor='#222222', pad=7)
for s in ax.spines.values():
    s.set_color('#8d8d8d')
    s.set_linewidth(1)
for g, left, top in zip(groups, [217, 331, 436, 568, 663, 787, 890], [36, 46, 36, 46, 36, 46, 36]):
    px_text(left, top, g, va='top', fontsize=13.7, color='#111111', linespacing=1.35, zorder=5)
ax.legend(handles=[Patch(color=c, label=n) for n, _, c in series], loc='center left',
          bbox_to_anchor=(1.018, 0.498), frameon=False, fontsize=9.3, handlelength=0.85,
          handleheight=0.95, handletextpad=0.3, labelspacing=0.5, borderpad=0, borderaxespad=0)

# B
scatter_panel((68, 502, 573, 947), (97, 508, 565, 922), (10, 20500),
              (b_band_x, b_band_lo, b_band_hi),
              [(b_gray + b_upper_fringe + b_lower_fringe, gray), (b_red, '#ee1c1c')],
              (57, 724), 'Ectopic Myc', (301, 959), 'Sample G4 B avg.  (raw)', 20, 317, 521)
px_text(106, 573, 'Myc repressed (57)', fontsize=13.9, color='#ee1c1c')

# C
bars_panel((94, 988, 551, 1231), (-3, 1.5), c_myc_pc, '#dc3037', -0.16, (1006, 1028), 'Expression change Myc ++ Pc-')
bars_panel((93, 1250, 552, 1492), (-2.5, 1.5), c_myc_pho, '#dc3037', -0.13, (1268, 1292), 'Expression change Myc ++ pho-')

# D
note_de = 'Sample G4 B avg. , Ectopic Myc no  (raw)'
scatter_panel((667, 500, 1180, 941), (697, 505, 1172, 924), (5.1, 26300),
              (de_band_x, de_band_lo, de_band_hi),
              [(de_gray, gray), (d_blue, blue), (d_red, red), (d_pink, pink)],
              (655, 735), 'Pho RNAi', (911, 958), note_de, 10, 926, 521)
for y, s, c in [(565, 'Increased pho- (183)', red), (591, 'Increased Pc- (479)', blue), (615, 'Increased in both (146)', pink)]:
    px_text(713, y, s, fontsize=13.9, color=c)

# E
e_pink = d_red + d_pink + e_pink_extra
scatter_panel((665, 996, 1184, 1448), (694, 1002, 1180, 1429), (5.1, 26300),
              (de_band_x, de_band_lo, de_band_hi),
              [(de_gray, gray), (e_blue, blue), (e_pink, pink), (e_red, red)],
              (651, 1220), 'Pho RNAi', (911, 1461), note_de, 10, 926, 1019)
for y, s, c in [(1063, 'Increased pho- (69)', red), (1088, 'Increased Myc++ (420)', blue), (1115, 'Increased in both (260)', pink)]:
    px_text(713, y, s, fontsize=13.9, color=c)

# panel letters
for x, y, s in [(95, 63, 'A'), (18, 517, 'B'), (18, 1010, 'C'), (627, 517, 'D'), (627, 1011, 'E')]:
    px_text(x, y, s, fontsize=16, color='black')

fig.savefig('out.png', dpi=100, facecolor='white')
